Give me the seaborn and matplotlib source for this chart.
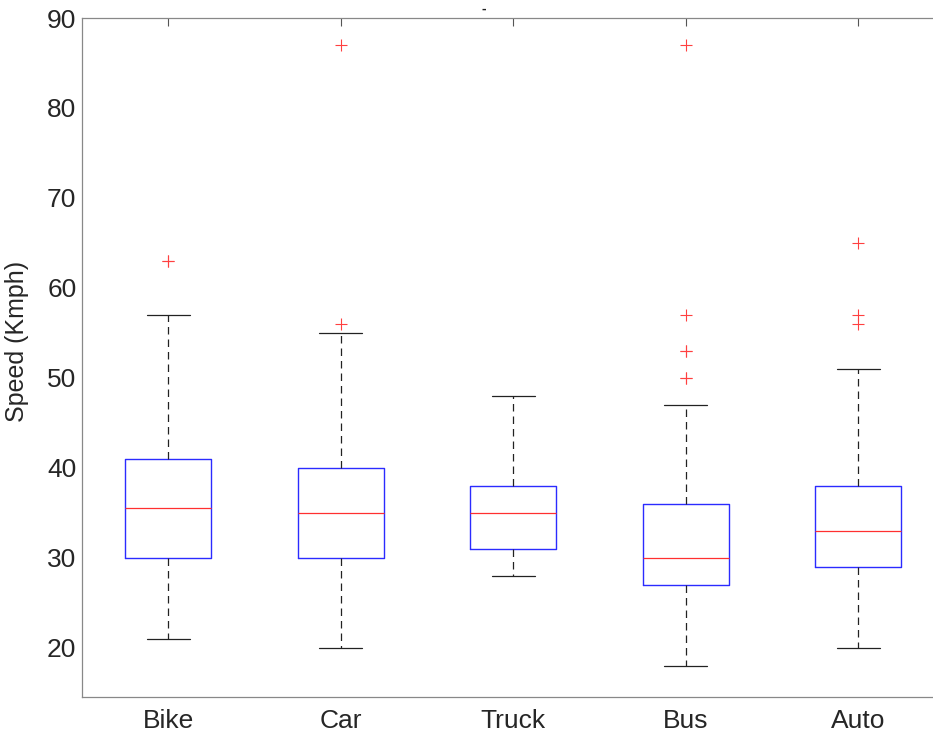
import pandas as pd
import matplotlib
matplotlib.use('Agg')
import matplotlib.pyplot as plt
import seaborn as sns

sns.set_style("white")
plt.rcParams['font.family'] = ['Liberation Sans', 'DejaVu Sans']

vehicles = ['Bike', 'Car', 'Truck', 'Bus', 'Auto']

# speed observations (Kmph) per vehicle type
bike = [21, 25, 28, 30, 33, 35, 35.5, 37, 39, 41, 57, 63, 63]
car = [20, 24, 27, 30, 32, 34, 35, 37, 38, 40, 55, 56, 87]
truck = [28, 30, 31, 33, 35, 36, 38, 42, 48]
bus = [18, 20, 22, 23, 24, 25, 26, 27, 27, 28, 28, 29, 29, 30, 30,
       31, 32, 33, 34, 35, 35, 36, 47, 50, 50, 53, 53, 57, 87]
auto = [20, 23, 26, 28, 29, 30, 31, 32, 33, 34, 35, 37, 38, 51, 56, 57, 65]

rows = []
for name, speeds in zip(vehicles, [bike, car, truck, bus, auto]):
    rows += [(name, s) for s in speeds]
df = pd.DataFrame(rows, columns=['Vehicle', 'Speed'])

fig = plt.figure(figsize=(9.33, 7.36), dpi=100)
ax = fig.add_axes([0.0879, 0.053, 0.9244, 0.9225])

sns.boxplot(data=df, x='Vehicle', y='Speed', order=vehicles, ax=ax,
            width=0.5, whis=1.5, fill=False,
            boxprops={'color': '#2b2bff', 'linewidth': 1.0},
            medianprops={'color': '#ff3030', 'linewidth': 0.9},
            whiskerprops={'color': '#222222', 'linewidth': 0.9, 'linestyle': (0, (6, 4))},
            capprops={'color': '#222222', 'linewidth': 0.9},
            flierprops={'marker': '+', 'markeredgecolor': '#ff4040',
                        'markersize': 9, 'markeredgewidth': 0.8})

ax.set_xlim(-0.5, 4.5)
ax.set_ylim(14.5, 90)
ax.set_yticks([20, 30, 40, 50, 60, 70, 80, 90])
ax.set_xlabel('')
ax.set_ylabel('Speed (Kmph)', fontsize=18, color='#262626')
ax.yaxis.set_label_coords(-0.062, 0.524)
ax.tick_params(axis='both', direction='in', length=6, width=0.8, color='#555555',
               labelsize=19, labelcolor='#262626', top=True, right=True)
ax.tick_params(axis='x', pad=9)
ax.tick_params(axis='y', pad=4)
for sp in ax.spines.values():
    sp.set_color('#888888')
    sp.set_linewidth(0.9)
ax.text(0.4655, 1.013, '-', transform=ax.transAxes, fontsize=10,
        fontweight='bold', ha='center', va='center', color='#222222')

fig.savefig('out.png', dpi=100)
